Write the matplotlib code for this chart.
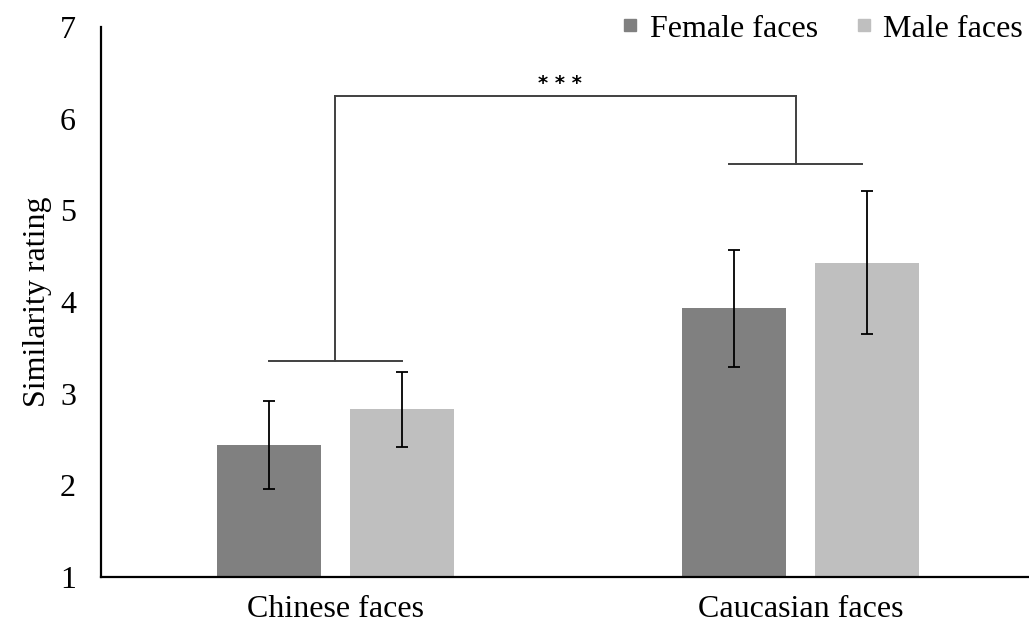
import numpy as np
import matplotlib
matplotlib.use("Agg")
import matplotlib.pyplot as plt
from matplotlib.lines import Line2D

plt.rcParams['font.family'] = ['Liberation Serif', 'DejaVu Serif']

categories = ['Chinese faces', 'Caucasian faces']
series = ['Female faces', 'Male faces']
female_means = [2.44, 3.93]
female_err = [0.48, 0.64]
male_means = [2.83, 4.43]
male_err = [0.41, 0.78]

# significance bracket levels (rating units)
group_lines = [3.36, 5.51]
bracket_top = 6.245
sig_label = '* * *'

colors = ['#808080', '#bfbfbf']
width = 0.224
offset = 0.143

fig = plt.figure(figsize=(10.29, 6.30), dpi=100)
ax = fig.add_axes([0.0982, 0.0841, 0.9018, 0.8730])

x = np.arange(len(categories))
ax.bar(x - offset, female_means, width, color=colors[0], zorder=2)
ax.bar(x + offset, male_means, width, color=colors[1], zorder=2)
ax.errorbar(x - offset, female_means, yerr=female_err, fmt='none',
            ecolor='black', elinewidth=1.3, capsize=4, capthick=1.3, zorder=3)
ax.errorbar(x + offset, male_means, yerr=male_err, fmt='none',
            ecolor='black', elinewidth=1.3, capsize=4, capthick=1.3, zorder=3)

# brackets
lc = '#404040'
centers = [x[0], x[1] - 0.01]
for xi, yl in zip(centers, group_lines):
    ax.plot([xi - offset, xi + offset], [yl, yl], color=lc, lw=1.4)
    ax.plot([xi, xi], [yl, bracket_top], color=lc, lw=1.4)
ax.plot(centers, [bracket_top, bracket_top], color=lc, lw=1.4)
ax.text(np.mean(centers) - 0.012, bracket_top + 0.04, sig_label, ha='center', va='bottom',
        fontsize=14, fontweight='bold', family='DejaVu Sans')

ax.set_xlim(-0.504, 1.491)
ax.set_ylim(1, 7)
ax.set_yticks(range(1, 8))
ax.set_xticks(x)
ax.set_xticklabels(categories)
ax.tick_params(axis='both', length=0, labelsize=23)
ax.tick_params(axis='y', pad=18)
ax.tick_params(axis='x', pad=13)
ax.set_ylabel('Similarity rating', fontsize=23, labelpad=6)

for s in ['top', 'right']:
    ax.spines[s].set_visible(False)
for s in ['left', 'bottom']:
    ax.spines[s].set_linewidth(1.6)
    ax.spines[s].set_color('black')

handles = [Line2D([], [], marker='s', linestyle='none', markersize=9,
                  color=c) for c in colors]
fig.legend(handles, series, loc='upper right', bbox_to_anchor=(1.022, 1.023),
           ncol=2, frameon=False, fontsize=23, handletextpad=0.1,
           columnspacing=0.95, handlelength=1.0)

fig.savefig('out.png', dpi=100)
